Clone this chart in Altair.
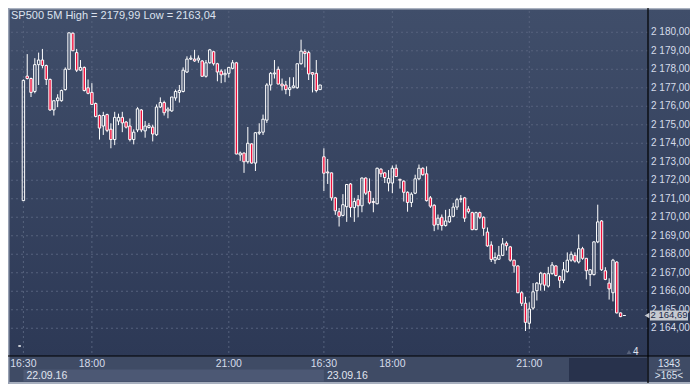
import altair as alt
import pandas as pd

# ---------------- data ----------------
first_bar = -1  # index of the first bar (bar 0 = 16:30, 22.09.16)
opens = [2163.04,
 2170.9, 2177.63, 2177.5, 2176.8, 2178.25, 2178.5, 2178.2, 2177.45, 2175.8, 2176.3,
 2176.3, 2176.9, 2178.0, 2179.95, 2178.9, 2177.95, 2178.1, 2177.0, 2176.75, 2176.15,
 2175.5, 2174.93, 2175.55, 2174.76, 2174.2, 2175.2, 2175.4, 2175.15, 2174.93, 2174.2,
 2174.72, 2175.8, 2174.67, 2174.85, 2174.87, 2174.46, 2175.96, 2176.2, 2175.75, 2175.75,
 2176.45, 2176.75, 2176.8, 2177.85, 2178.55, 2178.55, 2178.5, 2178.45, 2177.62, 2178.35,
 2178.95, 2178.3, 2177.9, 2177.7, 2177.78, 2178.05, 2178.35, 2173.37, 2173.47, 2173.0,
 2173.97, 2172.93, 2174.55, 2174.6, 2175.25, 2177.15, 2177.75, 2178.0, 2177.2, 2177.15,
 2176.9, 2177.0, 2177.0, 2178.3, 2178.95, 2178.9, 2177.82, 2177.78, 2176.9,
 2173.27, 2172.45, 2172.4, 2171.05, 2170.3, 2170.1, 2170.57, 2171.8, 2170.52, 2170.95,
 2170.62, 2172.12, 2171.4, 2170.85, 2170.73, 2172.6, 2172.4, 2171.85, 2171.85, 2172.65,
 2172.05, 2171.95, 2171.35, 2170.8, 2171.3, 2172.08, 2172.65, 2172.35, 2171.05, 2170.65,
 2169.6, 2170.0, 2169.55, 2169.75, 2170.05, 2170.55, 2170.97, 2171.05, 2170.45, 2170.25,
 2169.33, 2170.25, 2170.0, 2169.2, 2168.5, 2167.68, 2167.73, 2167.94, 2168.6, 2168.4,
 2167.68, 2167.37, 2165.92, 2165.35, 2164.27, 2165.09, 2166.03, 2166.39, 2166.95, 2166.28,
 2166.95, 2167.37, 2166.8, 2166.59, 2167.06, 2167.68, 2167.94, 2167.58, 2168.3, 2167.78,
 2166.9, 2166.9, 2168.67, 2169.8, 2167.11, 2166.44, 2165.92, 2167.58, 2164.83, 2164.69]
highs = [2163.04,
 2177.45, 2178.82, 2177.55, 2178.6, 2178.9, 2179.1, 2178.25, 2177.5, 2176.3, 2176.65,
 2176.9, 2178.1, 2179.99, 2179.99, 2179.1, 2178.5, 2178.15, 2177.45, 2177.25, 2176.2,
 2175.55, 2175.7, 2175.6, 2175.08, 2175.7, 2175.6, 2175.7, 2175.2, 2175.34, 2174.75,
 2175.95, 2175.85, 2175.2, 2175.1, 2175.0, 2176.1, 2176.48, 2176.3, 2175.95, 2176.5,
 2176.9, 2177.15, 2178.1, 2178.7, 2178.75, 2179.05, 2178.75, 2178.5, 2178.5, 2179.1,
 2179.0, 2178.35, 2178.0, 2178.0, 2178.1, 2178.5, 2178.4, 2173.55, 2173.5, 2174.88,
 2174.0, 2174.6, 2175.08, 2175.55, 2177.25, 2177.85, 2178.5, 2178.15, 2177.5, 2177.37,
 2177.57, 2177.57, 2178.3, 2179.6, 2179.08, 2179.0, 2177.85, 2178.5, 2177.15,
 2173.73, 2173.15, 2172.42, 2171.1, 2170.5, 2171.25, 2171.8, 2171.85, 2171.05, 2171.2,
 2172.15, 2172.15, 2172.1, 2171.05, 2172.68, 2172.65, 2172.45, 2172.55, 2172.8, 2172.85,
 2172.08, 2172.0, 2171.4, 2171.35, 2172.3, 2172.85, 2172.7, 2172.75, 2171.15, 2170.7,
 2170.15, 2170.15, 2170.4, 2170.45, 2170.78, 2171.05, 2171.2, 2171.1, 2170.6, 2170.3,
 2170.3, 2170.3, 2170.05, 2169.45, 2168.7, 2168.1, 2168.45, 2168.88, 2168.7, 2168.45,
 2167.7, 2167.4, 2166.0, 2165.7, 2165.4, 2166.44, 2166.5, 2167.05, 2167.0, 2167.32,
 2167.58, 2167.4, 2166.85, 2167.58, 2168.1, 2168.15, 2168.1, 2169.07, 2168.4, 2167.8,
 2167.2, 2168.7, 2170.68, 2169.85, 2167.3, 2166.7, 2167.75, 2167.62, 2164.85, 2164.69]
lows = [2163.04,
 2170.9, 2177.45, 2176.5, 2176.7, 2177.15, 2178.05, 2177.15, 2175.75, 2175.5, 2175.95,
 2176.25, 2176.85, 2178.0, 2179.0, 2177.85, 2177.9, 2176.8, 2176.65, 2176.1, 2175.4,
 2174.2, 2174.45, 2174.6, 2173.73, 2173.9, 2174.98, 2174.6, 2174.8, 2174.1, 2173.94,
 2174.6, 2174.6, 2174.3, 2174.8, 2174.1, 2174.4, 2175.9, 2175.5, 2175.35, 2175.7,
 2176.3, 2176.2, 2176.75, 2177.8, 2178.5, 2178.4, 2178.35, 2177.6, 2177.55, 2178.3,
 2178.2, 2177.35, 2177.25, 2177.3, 2177.55, 2178.0, 2173.4, 2173.05, 2172.4, 2172.9,
 2172.9, 2172.5, 2174.45, 2174.45, 2175.1, 2176.85, 2177.5, 2177.2, 2176.85, 2176.65,
 2176.55, 2176.98, 2176.95, 2178.25, 2178.1, 2177.42, 2176.75, 2176.75, 2176.9,
 2171.42, 2171.8, 2170.9, 2170.13, 2169.5, 2170.05, 2169.75, 2170.0, 2169.75, 2170.0,
 2170.27, 2171.2, 2170.7, 2170.27, 2170.7, 2172.17, 2171.85, 2171.4, 2171.3, 2172.2,
 2171.55, 2170.85, 2170.3, 2170.55, 2171.25, 2172.0, 2172.25, 2170.85, 2170.5, 2169.25,
 2169.33, 2169.28, 2169.5, 2169.7, 2170.0, 2170.4, 2170.8, 2169.75, 2170.2, 2169.3,
 2169.3, 2169.9, 2169.0, 2168.4, 2167.58, 2167.48, 2167.7, 2167.9, 2168.2, 2167.6,
 2167.0, 2165.9, 2165.2, 2163.85, 2163.95, 2165.0, 2165.5, 2166.03, 2166.03, 2166.2,
 2166.9, 2166.8, 2166.18, 2166.44, 2167.0, 2167.6, 2167.55, 2167.5, 2167.7, 2166.64,
 2166.28, 2166.85, 2168.6, 2167.1, 2166.6, 2165.55, 2165.45, 2164.8, 2164.6, 2164.69]
closes = [2163.04,
 2177.4, 2177.5, 2176.75, 2178.25, 2178.5, 2178.2, 2177.45, 2175.8, 2176.3, 2176.45,
 2176.85, 2178.0, 2179.97, 2179.0, 2177.95, 2178.1, 2176.85, 2176.7, 2176.1, 2175.45,
 2174.82, 2175.5, 2174.7, 2174.2, 2175.4, 2175.4, 2175.1, 2174.87, 2174.2, 2174.6,
 2175.86, 2174.72, 2174.93, 2174.95, 2174.5, 2175.96, 2176.2, 2175.65, 2175.85, 2176.5,
 2176.8, 2176.85, 2177.95, 2178.55, 2178.6, 2178.45, 2178.6, 2177.62, 2178.35, 2179.05,
 2178.3, 2177.85, 2177.7, 2177.78, 2178.1, 2178.35, 2173.42, 2173.47, 2173.0, 2174.0,
 2172.93, 2174.57, 2174.6, 2175.3, 2177.15, 2177.78, 2177.8, 2177.2, 2177.1, 2176.9,
 2177.0, 2177.1, 2178.3, 2178.98, 2178.85, 2177.75, 2177.73, 2176.85, 2177.15,
 2172.38, 2172.4, 2171.05, 2170.35, 2170.05, 2170.68, 2171.77, 2170.53, 2170.85, 2170.62,
 2172.12, 2171.3, 2170.78, 2170.8, 2172.65, 2172.35, 2172.15, 2172.1, 2172.65, 2172.2,
 2172.0, 2171.35, 2170.8, 2171.25, 2172.08, 2172.65, 2172.3, 2170.9, 2170.6, 2169.57,
 2169.95, 2169.55, 2169.8, 2170.05, 2170.55, 2170.95, 2171.0, 2169.95, 2170.3, 2169.33,
 2170.25, 2170.0, 2169.4, 2168.45, 2167.72, 2167.83, 2167.94, 2168.56, 2168.46, 2167.68,
 2167.37, 2165.92, 2165.35, 2164.32, 2165.04, 2165.97, 2166.44, 2166.98, 2166.33, 2166.95,
 2167.42, 2166.85, 2166.59, 2167.16, 2167.68, 2168.0, 2167.63, 2168.3, 2167.78, 2167.11,
 2167.16, 2168.67, 2169.75, 2167.16, 2166.64, 2166.13, 2167.68, 2164.83, 2164.63, 2164.69]

time_ticks = [0, 18, 54, 79, 97, 133]
time_labels = ["16:30", "18:00", "21:00", "16:30", "18:00", "21:00"]
date_starts = [0, 79]
date_labels = ["22.09.16", "23.09.16"]
price_ticks = list(range(2164, 2181))
last_price = 2164.69
header = "SP500 5M High = 2179,99 Low = 2163,04"
bars_total = "1343"
bars_visible = ">165<"
marker_text = "4"

# ---------------- helpers ----------------
def fmt(v):
    return f"{v:,.2f}".replace(",", " ").replace(".", ",")

n = len(opens)
df = pd.DataFrame({"i": list(range(first_bar, first_bar + n)),
                   "o": opens, "h": highs, "l": lows, "c": closes})
df["top"] = df[["o", "c"]].max(axis=1)
df["bot"] = df[["o", "c"]].min(axis=1)

W, H = 637, 345
RIGHT = 42
BOTTOM = 28
XS = alt.Scale(domain=[-1.95, 162.9], nice=False, zero=False)
YS = alt.Scale(domain=[2162.5, 2181.15], nice=False, zero=False)

LABEL = "#d6dcea"
FONT = "Liberation Sans"
RED = "#f0103c"

one = pd.DataFrame({"k": [0]})

def box(x1, x2, y1, y2, color):
    return alt.Chart(one).mark_rect(color=color).encode(
        x=alt.value(x1), x2=alt.value(x2), y=alt.value(y1), y2=alt.value(y2))

grad = alt.LinearGradient(
    gradient="linear",
    stops=[alt.GradientStop(color="#404e6a", offset=0),
           alt.GradientStop(color="#2d3956", offset=1)],
    x1=0, x2=0, y1=0, y2=1)

bg = alt.Chart(one).mark_rect(color=grad).encode(
    x=alt.value(-3), x2=alt.value(W + RIGHT), y=alt.value(-3), y2=alt.value(H))

panel = box(-3, W + RIGHT, H, H + 26, "#3f4b65")
dark_box = box(558, 636, 347, 370, "#28324c")
bottom_line = box(-3, W + RIGHT, H + 26, H + 28, "#a7afbe")
top_line = box(-3, W + RIGHT, -3, -1.5, "#aab2c0")
left_line = box(-3, -1.5, -3, H + 28, "#97a0b2")

dates = pd.DataFrame({"s": date_starts, "e": date_starts[1:] + [None], "t": date_labels})
date_seg = alt.Chart(dates.iloc[:1]).mark_rect(color="#4c5874").encode(
    x=alt.X("s:Q", scale=XS, axis=None), x2="e:Q",
    y=alt.value(358.5), y2=alt.value(370.5))

grid_x = alt.Chart(pd.DataFrame({"t": time_ticks})).mark_rule(
    color="#56627d", strokeDash=[2, 3], strokeWidth=1).encode(
    x=alt.X("t:Q", scale=XS, axis=None))
grid_y = alt.Chart(pd.DataFrame({"p": price_ticks})).mark_rule(
    color="#56627d", strokeDash=[2, 3], strokeWidth=1).encode(
    y=alt.Y("p:Q", scale=YS, axis=None))

axis_x = alt.Chart(one).mark_rule(color="#000000", strokeWidth=1.2).encode(
    x=alt.value(-3), x2=alt.value(W + RIGHT), y=alt.value(H))
axis_y = alt.Chart(one).mark_rule(color="#000000", strokeWidth=1.2).encode(
    x=alt.value(W), y=alt.value(-3), y2=alt.value(H + 27))

base = alt.Chart(df)
wick_hi = base.mark_rule(color="white", strokeWidth=1).encode(
    x=alt.X("i:Q", scale=XS, axis=None),
    y=alt.Y("h:Q", scale=YS, axis=None), y2="top:Q")
wick_lo = base.mark_rule(color="white", strokeWidth=1).encode(
    x=alt.X("i:Q", scale=XS, axis=None),
    y=alt.Y("bot:Q", scale=YS, axis=None), y2="l:Q")
body = base.mark_bar(size=2.4, stroke="white", strokeWidth=1).encode(
    x=alt.X("i:Q", scale=XS, axis=None),
    y=alt.Y("top:Q", scale=YS, axis=None), y2="bot:Q",
    fill=alt.condition("datum.c < datum.o", alt.value(RED), alt.value("transparent")))

ylab = alt.Chart(pd.DataFrame({"p": price_ticks, "t": [fmt(v) for v in price_ticks]})).mark_text(
    align="left", baseline="middle", font=FONT, fontSize=10, color=LABEL).encode(
    x=alt.value(W + 3), y=alt.Y("p:Q", scale=YS, axis=None), text="t:N")

xlab = alt.Chart(pd.DataFrame({"t": time_ticks, "s": time_labels})).mark_text(
    align="center", baseline="middle", font=FONT, fontSize=10.5, color=LABEL).encode(
    x=alt.X("t:Q", scale=XS, axis=None), y=alt.value(352.5), text="s:N")

dlab = alt.Chart(dates).mark_text(
    align="left", baseline="middle", font=FONT, fontSize=10.5, color="#e0e5ef", dx=3).encode(
    x=alt.X("s:Q", scale=XS, axis=None), y=alt.value(364.5), text="t:N")

price_df = pd.DataFrame({"p": [last_price], "lo": [last_price - 0.27],
                         "hi": [last_price + 0.27], "t": [fmt(last_price)]})
pbox = alt.Chart(price_df).mark_rect(color="#c6c9d0").encode(
    x=alt.value(639), x2=alt.value(677),
    y=alt.Y("lo:Q", scale=YS, axis=None), y2="hi:Q")
parrow = alt.Chart(price_df).mark_point(shape="triangle-left", filled=True, size=30,
                                        color="#c6c9d0", opacity=1).encode(
    x=alt.value(636), y=alt.Y("p:Q", scale=YS, axis=None))
ptext = alt.Chart(price_df).mark_text(
    align="left", baseline="middle", font=FONT, fontSize=9.5, color="#1b2a48").encode(
    x=alt.value(639.5), y=alt.Y("p:Q", scale=YS, axis=None), text="t:N")

head = alt.Chart(pd.DataFrame({"t": [header]})).mark_text(
    align="left", baseline="middle", font=FONT, fontSize=11, color="#dce2ee").encode(
    x=alt.value(0), y=alt.value(5), text="t:N")

mk_tri = alt.Chart(one).mark_point(shape="triangle-up", filled=True, size=22,
                                   color="#59637b", opacity=1).encode(
    x=alt.value(618), y=alt.value(341))
mk_txt = alt.Chart(pd.DataFrame({"t": [marker_text]})).mark_text(
    align="left", baseline="middle", font=FONT, fontSize=10, color="#e0e5ef").encode(
    x=alt.value(622), y=alt.value(341), text="t:N")

cnt = alt.Chart(pd.DataFrame({"t": [bars_total, bars_visible], "y": [352.5, 365]})).mark_text(
    align="center", baseline="middle", font=FONT, fontSize=10, color="#dce2ee").encode(
    x=alt.value(658), y=alt.Y("y:Q", scale=None, axis=None), text="t:N")
cnt_line = alt.Chart(one).mark_rule(color="#b9c0cc", strokeWidth=1).encode(
    x=alt.value(646), x2=alt.value(670), y=alt.value(359))

chart = alt.layer(
    bg, panel, date_seg, dark_box, bottom_line, top_line, left_line,
    grid_x, grid_y, axis_x, axis_y,
    wick_hi, wick_lo, body,
    ylab, xlab, dlab, pbox, parrow, ptext, head, mk_tri, mk_txt, cnt, cnt_line
).properties(
    width=W, height=H,
    autosize=alt.AutoSizeParams(type="none"),
    padding={"left": 3, "top": 3, "right": RIGHT, "bottom": BOTTOM},
    background="#3f4b65"
).configure_view(stroke=None)

chart.save("out.html", embed_options={"renderer": "svg", "actions": False})
